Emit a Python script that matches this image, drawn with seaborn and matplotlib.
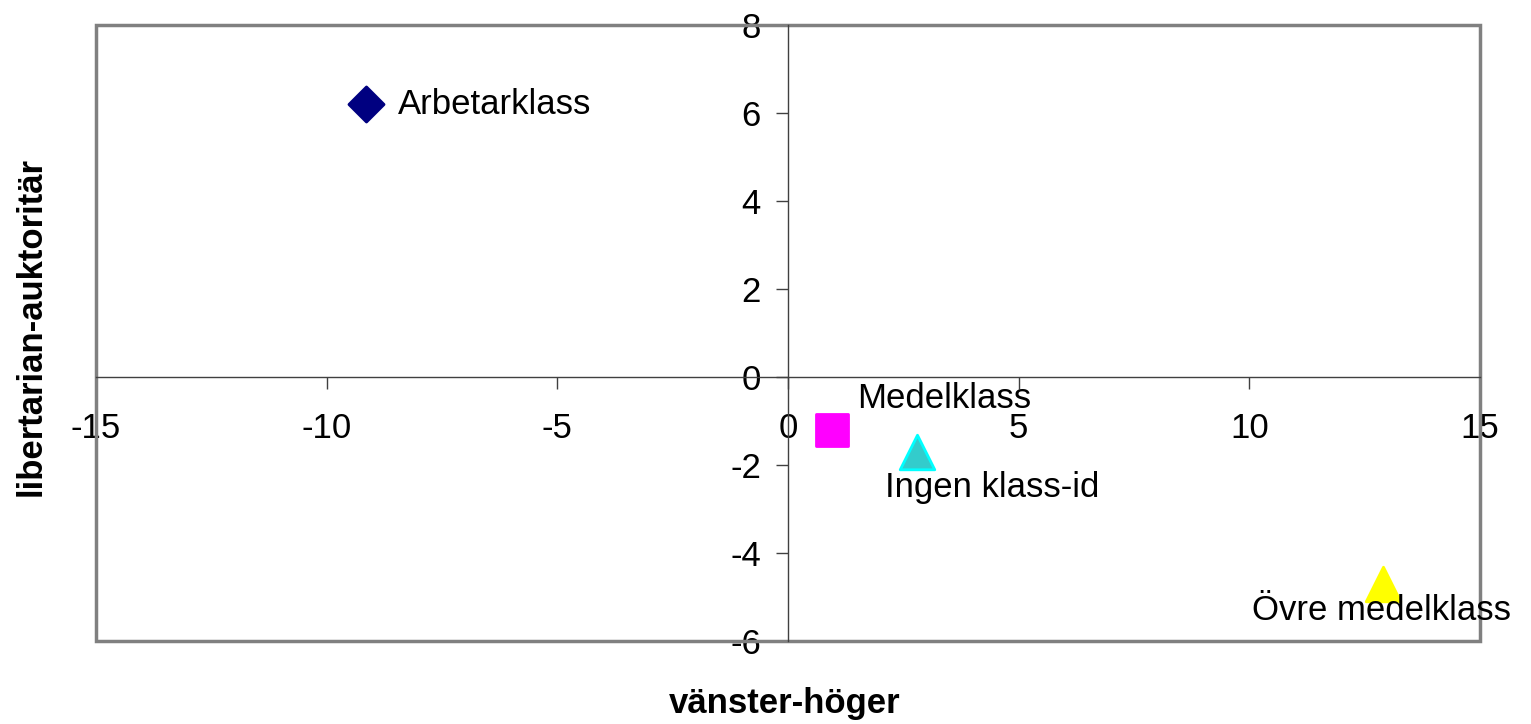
import matplotlib
matplotlib.use("Agg")
import matplotlib.pyplot as plt
import pandas as pd
import seaborn as sns

# data
classes = ["Arbetarklass", "Medelklass", "Ingen klass-id", "Övre medelklass"]
left_right = [-9.15, 0.95, 2.8, 12.9]
lib_auth = [6.2, -1.2, -1.7, -4.7]
markers = ["D", "s", "^", "^"]
face_colors = ["#000080", "#FF00FF", "#33CCCC", "#FFFF00"]
edge_colors = ["#000080", "#FF00FF", "#00FFFF", "#FFFF00"]
label_offsets = [(32, 0), (25, 31), (-32, -36), (-131, -27)]  # pixels

x_ticks = [-15, -10, -5, 0, 5, 10, 15]
y_ticks = [-6, -4, -2, 0, 2, 4, 6, 8]

df = pd.DataFrame({"klass": classes, "x": left_right, "y": lib_auth})

sns.set_style("white")
plt.rcParams["font.family"] = ["Liberation Sans", "DejaVu Sans"]
plt.rcParams["axes.unicode_minus"] = False

fig = plt.figure(figsize=(15.31, 7.24), dpi=100)
ax = fig.add_axes([96 / 1531, 1 - 641 / 724, (1480 - 96) / 1531, (641 - 25) / 724])

sizes = {"D": 320, "s": 560, "^": 620}
for i, row in df.iterrows():
    sns.scatterplot(
        data=df.iloc[[i]], x="x", y="y", marker=markers[i],
        color=face_colors[i], edgecolor=edge_colors[i], linewidth=2,
        s=sizes[markers[i]], ax=ax, zorder=5, legend=False,
    )
    dx, dy = label_offsets[i]
    ax.annotate(row["klass"], (row["x"], row["y"]), xytext=(dx, dy),
                textcoords="offset pixels", ha="left", va="center",
                fontsize=25, color="black", zorder=6)

ax.set_xlim(-15, 15)
ax.set_ylim(-6, 8)
ax.set_xticks(x_ticks)
ax.set_yticks(y_ticks)
ax.tick_params(axis="both", labelsize=25, labelcolor="black", length=8.5,
               width=1, color="#404040", direction="out", bottom=True, left=True)
ax.tick_params(axis="x", pad=17)
ax.tick_params(axis="y", pad=11)

# axes crossing at zero
for side in ["left", "bottom"]:
    ax.spines[side].set_position(("data", 0))
    ax.spines[side].set_color("#404040")
    ax.spines[side].set_linewidth(1)
for side in ["right", "top"]:
    ax.spines[side].set_visible(False)

# gray plot-area frame
frame = plt.Rectangle((0, 0), 1, 1, transform=ax.transAxes, fill=False,
                      edgecolor="#808080", linewidth=2.5, clip_on=False, zorder=1)
ax.add_patch(frame)

ax.set_xlabel("")
ax.set_ylabel("")
fig.text(785 / 1531, 1 - 703 / 724, "vänster-höger", ha="center", va="center",
         fontsize=25, fontweight="bold", color="black")
fig.text(31 / 1531, 1 - 327 / 724, "libertarian-auktoritär", ha="center", va="center",
         rotation=90, fontsize=25, fontweight="bold", color="black")

fig.savefig("out.png", dpi=100)
